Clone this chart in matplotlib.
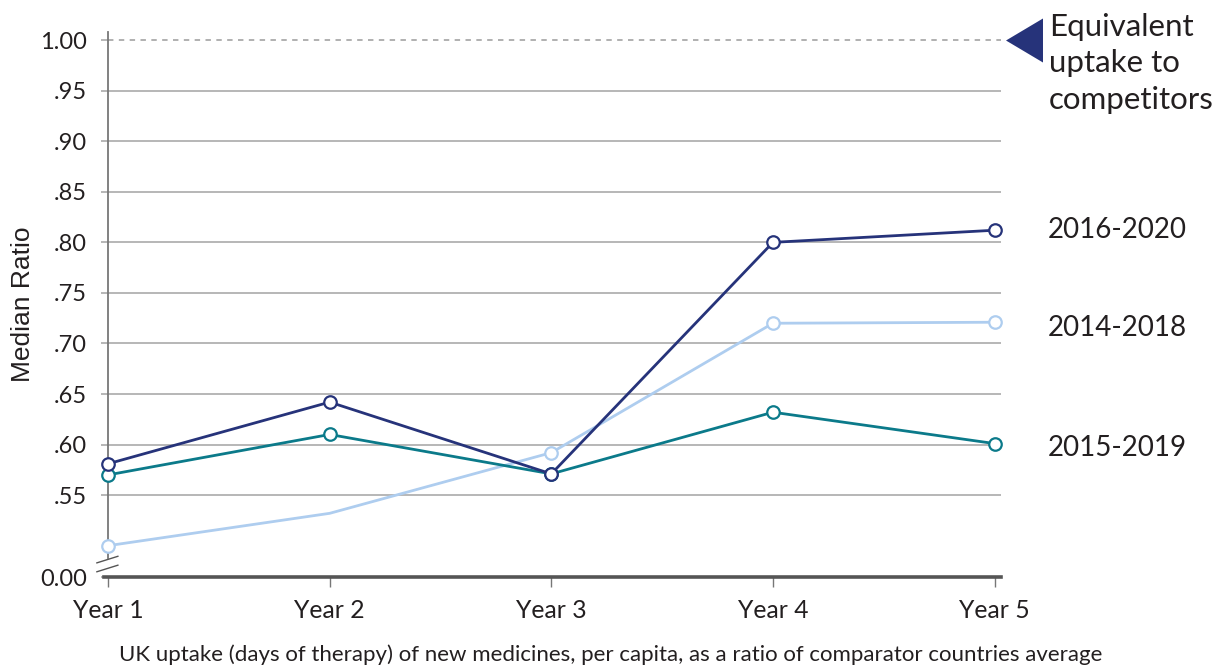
#-----------------------------------------------------------------------
#---- plot.py : UK uptake of new medicines, median ratio per year
#-----------------------------------------------------------------------

import numpy as np
import matplotlib
matplotlib.use("Agg")
import matplotlib.pyplot as plt
import matplotlib.transforms as mtransforms


#---- Donnees
years = ["Year 1", "Year 2", "Year 3", "Year 4", "Year 5"]
series_names = ["2016-2020", "2014-2018", "2015-2019"]
vals_2016_2020 = [0.581, 0.642, 0.571, 0.800, 0.812]
vals_2014_2018 = [0.500, 0.532, 0.592, 0.720, 0.721]
vals_2015_2019 = [0.570, 0.610, 0.571, 0.632, 0.601]
markers_2014_2018 = [0, 2, 3, 4]   # pas de marqueur en Year 2

ytick_vals = [0.55, 0.60, 0.65, 0.70, 0.75, 0.80, 0.85, 0.90, 0.95]
ytick_labels = [".55", ".60", ".65", ".70", ".75", ".80", ".85", ".90", ".95"]
y_break = 0.469          # position du "0.00" sur l'axe coupe
label_y = [0.812, 0.715, 0.597]

caption = ("UK uptake (days of therapy) of new medicines, per capita, "
           "as a ratio of comparator countries average")

#---- Styles
NAVY = "#26337a"
LIGHT = "#aecdef"
TEAL = "#0b7a8a"
GRID = "#aaaaaa"
TXT = "#231f20"
FONT = "Lato"


#-----------------------------------------------------------------------
def main():

    fig = plt.figure(figsize=(12.21, 6.68), dpi=100)
    ax = fig.add_axes([0.0885, 0.1362, 0.7315, 0.8158])

    x = np.arange(len(years))

    #---- Grille
    for v in ytick_vals:
        ax.axhline(v, color=GRID, lw=1.2, zorder=1)
    ax.axhline(1.0, color=GRID, lw=1.3, ls=(0, (3, 3)), zorder=1)

    #---- Series
    mk = dict(marker="o", ms=9, mew=1.6, mfc="white", clip_on=False)
    ax.plot(x, vals_2014_2018, color=LIGHT, lw=2.0, mec=LIGHT,
            markevery=markers_2014_2018, zorder=3, **mk)
    ax.plot(x, vals_2015_2019, color=TEAL, lw=2.0, mec=TEAL, zorder=4, **mk)
    ax.plot(x, vals_2016_2020, color=NAVY, lw=2.0, mec=NAVY, zorder=5, **mk)

    #---- Axes
    ax.set_xlim(0, 4.03)
    ax.set_ylim(y_break, 1.008)

    ax.set_yticks([y_break] + ytick_vals + [1.0])
    ax.set_yticklabels(["0.00"] + ytick_labels + ["1.00"])
    ax.set_xticks(x)
    ax.set_xticklabels(years)

    for lab in ax.get_yticklabels():
        lab.set_fontfamily(FONT)
        lab.set_fontsize(17)
        lab.set_color(TXT)
    for lab in ax.get_xticklabels():
        lab.set_fontfamily(FONT)
        lab.set_fontsize(17.8)
        lab.set_color(TXT)
    ax.tick_params(axis="y", length=5, width=1.2, color=GRID, pad=10)
    ax.tick_params(axis="x", length=7, width=1.0, color="#777777", pad=9)

    for s in ["top", "right"]:
        ax.spines[s].set_visible(False)
    ax.spines["left"].set_color("#777777")
    ax.spines["left"].set_linewidth(1.3)
    ax.spines["left"].set_bounds(0.488, 1.008)
    ax.spines["bottom"].set_color("#555555")
    ax.spines["bottom"].set_linewidth(2.6)
    ax.spines["bottom"].set_bounds(-0.02, 4.03)

    #---- Marques de coupure de l'axe
    trans = mtransforms.blended_transform_factory(ax.transAxes, ax.transData)
    for dy in (0.0, 0.0088):
        ax.plot([-0.0125, 0.0110], [0.483 - dy, 0.4895 - dy], color="#555555",
                lw=1.0, transform=trans, clip_on=False, zorder=6)

    ax.set_ylabel("Median Ratio", fontsize=19, family="Liberation Sans",
                  color=TXT, labelpad=4)

    #---- Etiquettes des series
    for name, yv in zip(series_names, label_y):
        ax.text(1.0525, yv, name, transform=trans, fontsize=20,
                family=FONT, color=TXT, va="center", ha="left")

    #---- Triangle et texte "Equivalent uptake"
    tri = [(-0.84, 0.0), (0.84, -1.0), (0.84, 1.0)]
    ax.plot([1.025], [1.0], marker=tri, ms=31.7, color=NAVY, mec=NAVY,
            mew=0, transform=trans, clip_on=False, zorder=6)
    fig.text(1049 / 1221, 1 - 13 / 668, "Equivalent\nuptake to\ncompetitors",
             fontsize=22.5, family=FONT, color=TXT, va="top", ha="left",
             linespacing=1.36)

    fig.text(0.5, 1 - 655 / 668, caption, fontsize=16.0, family=FONT,
             color=TXT, ha="center", va="center")

    fig.savefig("out.png", dpi=100)


#-----------------------------------------------------------------------
if __name__ == "__main__":
    main()
